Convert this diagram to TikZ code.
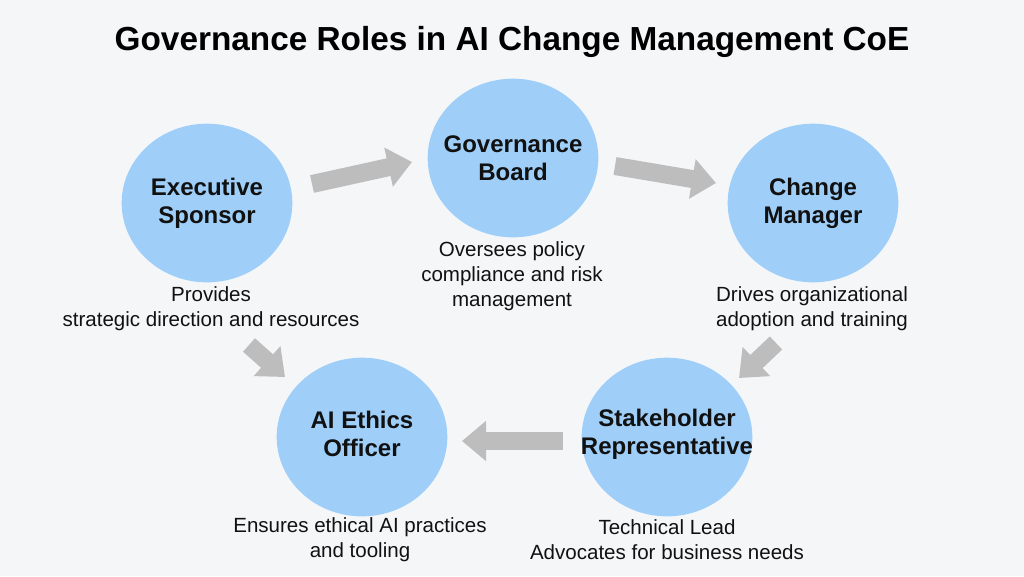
\documentclass[tikz,border=0pt]{standalone}
\usepackage{fontspec}
\setmainfont{Liberation Sans}
\usetikzlibrary{shapes.geometric,arrows.meta}
\definecolor{bgc}{HTML}{F5F6F8}
\definecolor{roleblue}{HTML}{9FCFF8}
\definecolor{arrowgray}{HTML}{BDBDBD}
\definecolor{inkc}{HTML}{111111}
\tikzset{
  role/.style={ellipse, fill=roleblue, draw=none, minimum width=128pt, minimum height=119pt,
    inner sep=0pt},
  rolelabel/.style={align=center, text=inkc, inner sep=0pt, font=\bfseries\fontsize{18}{21}\selectfont},
  desc/.style={align=center, text=inkc, inner sep=0pt, font=\fontsize{15.4}{18.75}\selectfont},
  blockarrow/.style={draw=arrowgray, line width=13.5pt,
    -{Triangle[length=18pt,width=29pt]}, arrowgray},
}
\begin{document}
\begin{tikzpicture}[x=0.75pt,y=-0.75pt]
\fill[bgc] (0,0) rectangle (1024,576);
\useasboundingbox (0,0) rectangle (1024,576);

\node[text=black, font=\bfseries\fontsize{25}{30}\selectfont] (title) at (512,42) {Governance Roles in AI Change Management CoE};

\node[role] (exec) at (207,203) {};
\node[role] (gov) at (513,158) {};
\node[role] (chg) at (813,203) {};
\node[role] (eth) at (362,437) {};
\node[role] (stk) at (667,437) {};

\node[rolelabel] (execl) at (exec) {Executive\\Sponsor};
\node[rolelabel] (govl) at (gov) {Governance\\Board};
\node[rolelabel] (chgl) at (chg) {Change\\Manager};
\node[rolelabel] (ethl) at ([yshift=2pt]eth) {AI Ethics\\Officer};
\node[rolelabel] (stkl) at ([yshift=2pt]stk) {Stakeholder\\Representative};

\node[desc] (execd) at (211,309) {Provides\\strategic direction and resources};
\node[desc] (govd) at (512,276) {Oversees policy\\compliance and risk\\management};
\node[desc] (chgd) at (812,309) {Drives organizational\\adoption and training};
\node[desc] (ethd) at (360,540) {Ensures ethical AI practices\\and tooling};
\node[desc] (stkd) at (667,540) {Technical Lead\\Advocates for business needs};

\coordinate (a1s) at (312,184);
\coordinate (a1e) at (412,162);
\coordinate (a2s) at (615,166);
\coordinate (a2e) at (716,183);
\coordinate (a3s) at (249,345);
\coordinate (a3e) at (285,377);
\coordinate (a4s) at (776,343);
\coordinate (a4e) at (739,378);
\coordinate (a5s) at (563,441);
\coordinate (a5e) at (462,441);

\draw[blockarrow] (a1s) -- (a1e);
\draw[blockarrow] (a2s) -- (a2e);
\draw[blockarrow] (a3s) -- (a3e);
\draw[blockarrow] (a4s) -- (a4e);
\draw[blockarrow] (a5s) -- (a5e);
\end{tikzpicture}
\end{document}
